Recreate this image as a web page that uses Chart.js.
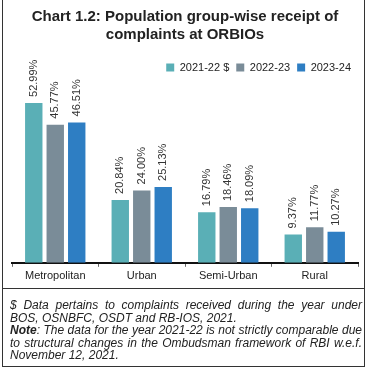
<!DOCTYPE html>
<html>
<head>
<meta charset="utf-8">
<script src="https://cdn.jsdelivr.net/npm/chart.js@4.4.1/dist/chart.umd.min.js"></script>
<style>
  body { margin: 0; background: #fff; }
  #wrap { position: relative; width: 371px; height: 371px; overflow: hidden; font-family: "Liberation Sans", Arial, sans-serif; }
  #box { position: absolute; left: 2px; top: 0px; width: 361px; height: 366px; border: 1.5px solid #333; border-top: none; }
  #sep { position: absolute; left: 2px; top: 288px; width: 363px; height: 0; border-top: 1.5px solid #333; }
  #chartBox { position: absolute; left: 0; top: 0; width: 371px; height: 288px; }
  #note { position: absolute; left: 10px; top: 299px; width: 352px; font-size: 12px; line-height: 12.5px;
          font-style: italic; text-align: justify; color: #222; }
</style>
</head>
<body>
<div id="wrap">
  <div id="chartBox"><canvas id="grafico"></canvas></div>
  <div id="box"></div>
  <div id="sep"></div>
  <div id="note">$ Data pertains to complaints received during the year under BOS, OSNBFC, OSDT and RB-IOS, 2021.<br><b>Note</b>: The data for the year 2021-22 is not strictly comparable due to structural changes in the Ombudsman framework of RBI w.e.f. November 12, 2021.</div>
</div>
<script>
// Datos
const categorias = ['Metropolitan', 'Urban', 'Semi-Urban', 'Rural'];
const serie2122 = [52.99, 20.84, 16.79, 9.37];
const serie2223 = [45.77, 24.00, 18.46, 11.77];
const serie2324 = [46.51, 25.13, 18.09, 10.27];
const nombresSeries = ['2021-22 $', '2022-23', '2023-24'];
const colores = ['#5aafb6', '#7a8c98', '#2e7ec3'];

// Etiquetas rotadas sobre las barras
const etiquetasPlugin = {
    id: 'etiquetas',
    afterDatasetsDraw(chart) {
        const ctx = chart.ctx;
        ctx.save();
        ctx.font = '11px "Liberation Sans", Arial, sans-serif';
        ctx.fillStyle = '#333';
        ctx.textAlign = 'left';
        ctx.textBaseline = 'middle';
        chart.data.datasets.forEach((ds, i) => {
            chart.getDatasetMeta(i).data.forEach((bar, j) => {
                ctx.save();
                ctx.translate(bar.x, bar.y - 6);
                ctx.rotate(-Math.PI / 2);
                ctx.fillText(ds.data[j].toFixed(2) + '%', 0, 0);
                ctx.restore();
            });
        });
        ctx.restore();
    }
};

const ctx = document.querySelector('#grafico').getContext('2d');
new Chart(ctx, {
    type: 'bar',
    data: {
        labels: categorias,
        datasets: [serie2122, serie2223, serie2324].map((d, i) => ({
            label: nombresSeries[i],
            data: d,
            backgroundColor: colores[i],
            barPercentage: 0.81,
            categoryPercentage: 0.745
        }))
    },
    options: {
        responsive: true,
        maintainAspectRatio: false,
        animation: false,
        layout: { padding: { left: 12, right: 13, top: 6, bottom: 2 } },
        plugins: {
            title: {
                display: true,
                text: ['Chart 1.2: Population group-wise receipt of', 'complaints at ORBIOs'],
                color: '#222',
                font: { family: '"Liberation Sans", Arial, sans-serif', size: 15, weight: 'bold', lineHeight: 1.2 },
                padding: { top: 2, bottom: 11 }
            },
            legend: {
                display: true,
                align: 'end',
                labels: {
                    boxWidth: 8,
                    boxHeight: 8,
                    padding: 7,
                    color: '#222',
                    font: { family: '"Liberation Sans", Arial, sans-serif', size: 11 }
                }
            },
            tooltip: { enabled: false }
        },
        scales: {
            x: {
                grid: { display: true, drawOnChartArea: false, drawTicks: true, tickLength: 4, color: '#666', offset: true },
                border: { display: true, color: '#111', width: 2 },
                ticks: { color: '#222', padding: 3, font: { family: '"Liberation Sans", Arial, sans-serif', size: 11 } }
            },
            y: {
                display: false,
                min: 0,
                max: 59.6
            }
        }
    },
    plugins: [etiquetasPlugin]
});
</script>
</body>
</html>
